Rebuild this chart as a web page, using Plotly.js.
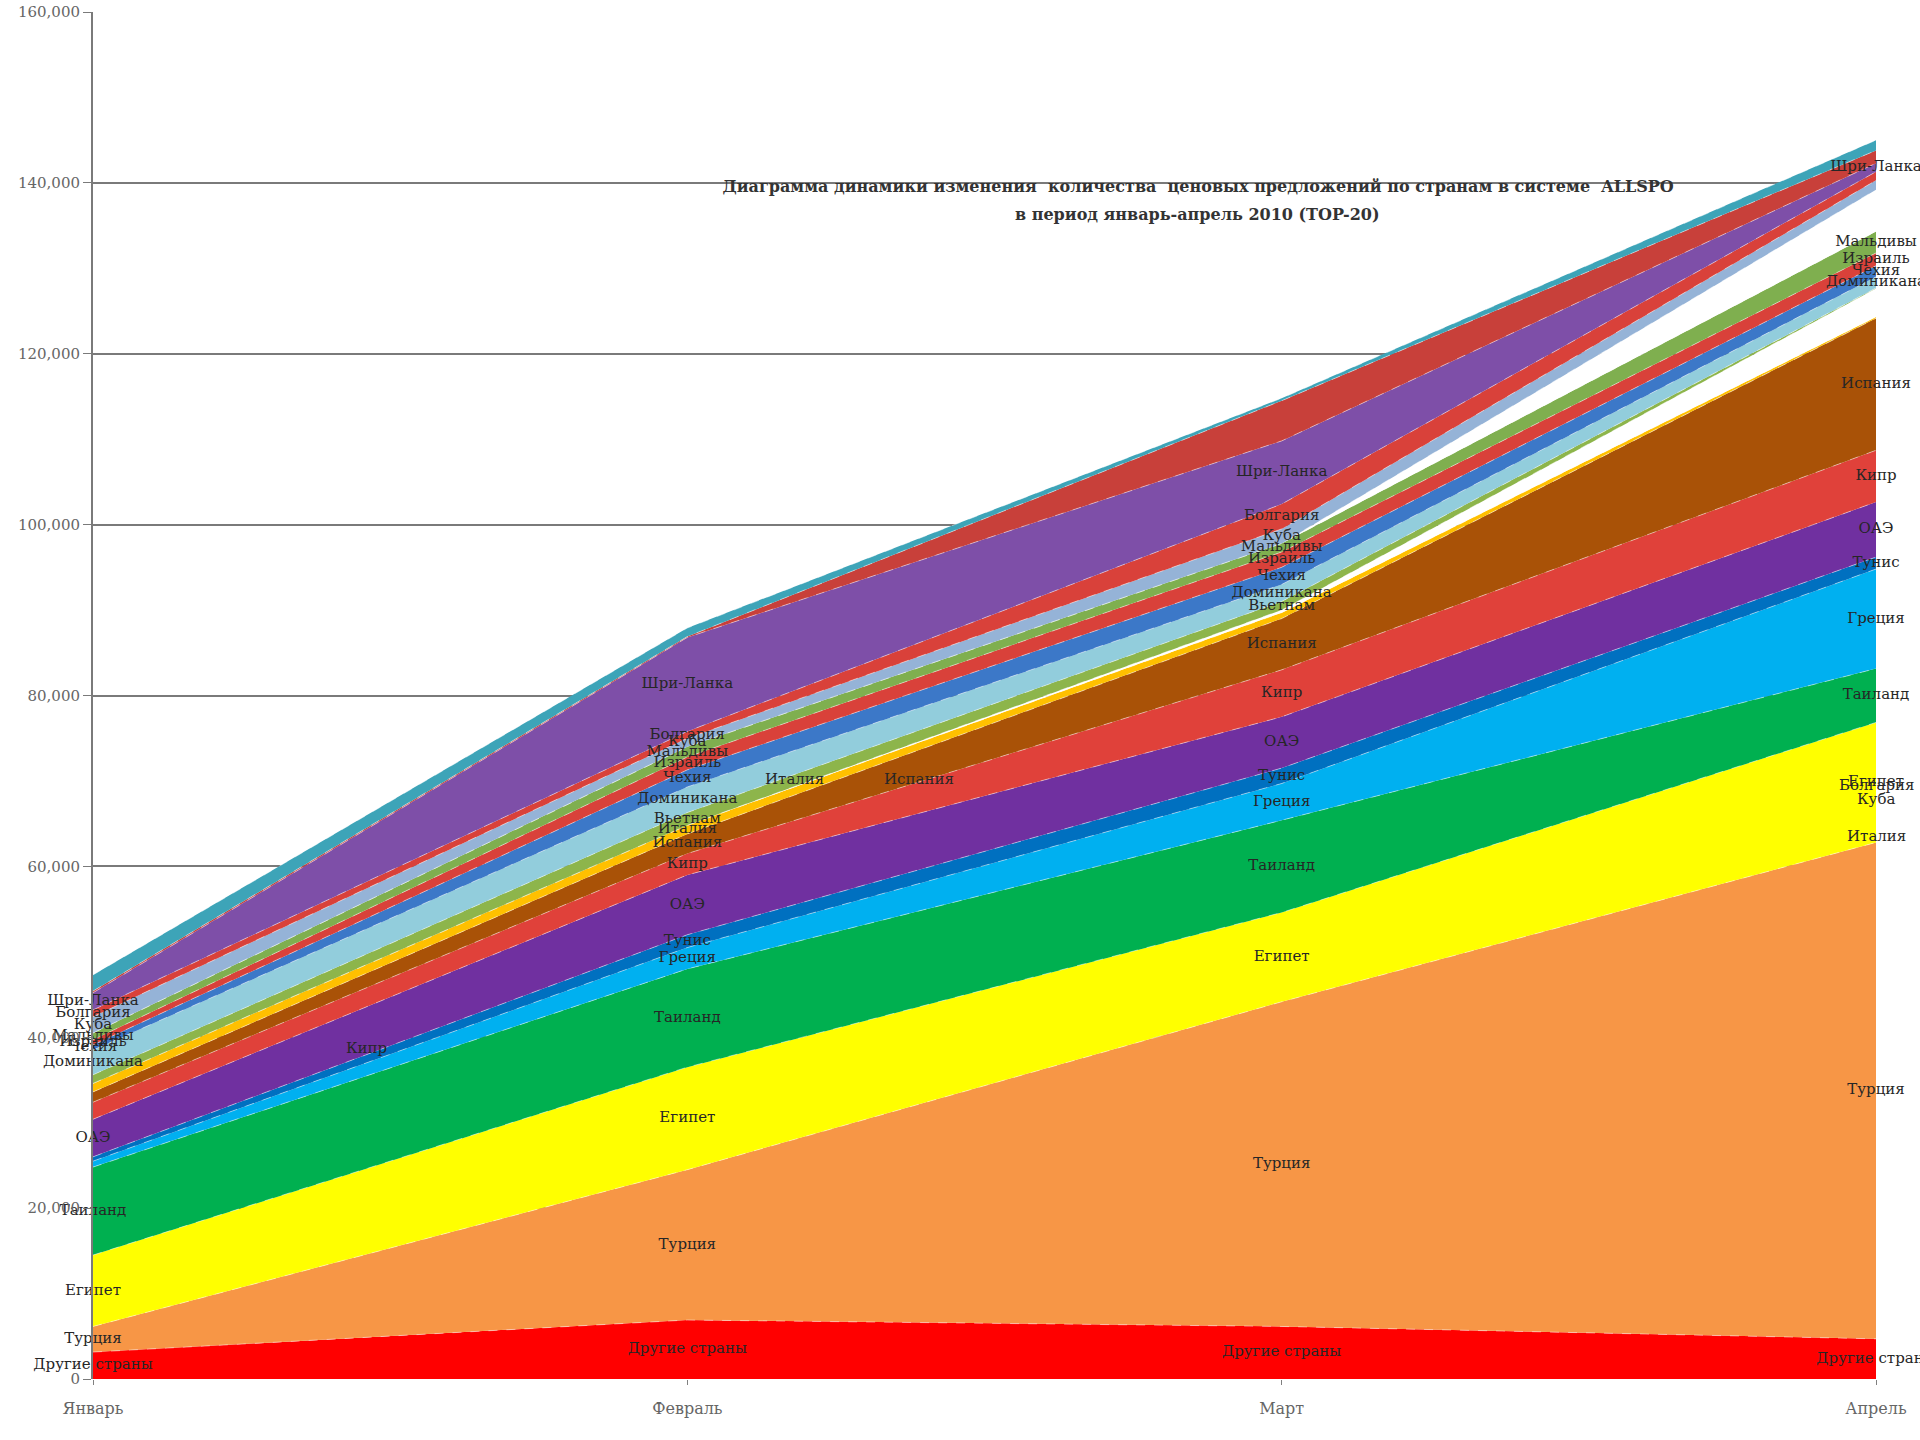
<!DOCTYPE html>
<html>
<head>
<meta charset="utf-8">
<script src="https://cdn.plot.ly/plotly-3.0.1.min.js"></script>
<style>
html,body{margin:0;padding:0;background:#ffffff;}
#chart{width:1920px;height:1440px;}
</style>
</head>
<body>
<div id="chart"></div>
<script>
// ---- categories ----
const months = ['Январь', 'Февраль', 'Март', 'Апрель'];

// ---- series (bottom to top of the stack) ----
const countries = ['Другие страны', 'Турция', 'Египет', 'Таиланд', 'Греция', 'Тунис', 'ОАЭ', 'Кипр',
  'Испания', 'Италия', 'Индия', 'Вьетнам', 'Доминикана', 'Чехия', 'Израиль', 'Мальдивы',
  'Индонезия', 'Куба', 'Болгария', 'Шри-Ланка', 'Хорватия', 'Франция'];

const otherCountries = [3150, 6900, 6150, 4700];
const turkey        = [3000, 17600, 38000, 58100];
const egypt         = [8350, 12000, 10450, 14050];
const thailand      = [10300, 11500, 10800, 6300];
const greece        = [700, 2500, 4300, 11650];
const tunisia       = [500, 1500, 1800, 1400];
const uae           = [4400, 7000, 6000, 6450];
const cyprus        = [2000, 2500, 5500, 6050];
const spain         = [1200, 2300, 6000, 15450];
const italy         = [1000, 1000, 700, 150];
const india         = [0, 0, 300, 3350];
const vietnam       = [1000, 1500, 1000, 50];
const dominicana    = [2900, 3000, 2000, 1300];
const czech         = [600, 2000, 2000, 1300];
const israel        = [600, 1500, 1800, 1500];
const maldives      = [800, 1200, 1000, 2500];
const indonesia     = [0, 0, 0, 4900];
const cuba          = [1900, 1000, 1700, 1100];
const bulgaria      = [800, 800, 2900, 1000];
const sriLanka      = [2000, 11000, 7400, 1000];
const croatia       = [200, 100, 4700, 1500];
const france        = [1900, 1000, 300, 1200];

const seriesValues = [otherCountries, turkey, egypt, thailand, greece, tunisia, uae, cyprus,
  spain, italy, india, vietnam, dominicana, czech, israel, maldives,
  indonesia, cuba, bulgaria, sriLanka, croatia, france];

const colors = ['#FF0000', '#F79646', '#FFFF00', '#00B050', '#00B0F0', '#0070C0', '#7030A0', '#E0413A',
  '#A95207', '#FFC000', '#FFFFFF', '#8DB54B', '#92CDDC', '#3C78C8', '#D9413A', '#7FAF4F',
  '#FFFFFF', '#95B3D7', '#D9413A', '#7E4FA8', '#C8403A', '#3DA4B8'];

// months (indices) at which each series carries its name label
const labelMonths = [[0,1,2,3],[0,1,2,3],[0,1,2,3],[0,1,2,3],[1,2,3],[1,2,3],[0,1,2,3],[1,2,3],
  [1,2,3],[1],[],[1,2],[0,1,2,3],[0,1,2,3],[0,1,2,3],[0,1,2,3],
  [],[0,1,2],[0,1,2],[0,1,2,3],[],[]];

// ---- build traces ----
const traces = [];
const cum = [0, 0, 0, 0];
const lx = [], ly = [], lt = [];
seriesValues.forEach((vals, i) => {
  traces.push({
    type: 'scatter', x: months, y: vals, name: countries[i],
    stackgroup: 'one', mode: 'lines',
    line: {width: 1, color: 'rgba(255,255,255,0.45)', dash: 'dash'},
    fillcolor: colors[i], hoverinfo: 'skip', showlegend: false
  });
  labelMonths[i].forEach(m => {
    lx.push(months[m]);
    ly.push(cum[m] + vals[m] / 2);
    lt.push(countries[i]);
  });
  vals.forEach((v, m) => { cum[m] += v; });
});
traces.push({
  type: 'scatter', mode: 'text', x: lx, y: ly, text: lt,
  textposition: 'middle center', cliponaxis: false,
  textfont: {family: 'DejaVu Serif', size: 15, color: '#262626'},
  hoverinfo: 'skip', showlegend: false
});

const labelFont = {family: 'DejaVu Serif', size: 15, color: '#262626'};
const extraLabels = [
  {x: 0.46, y: 38700, text: 'Кипр'},
  {x: 1.18, y: 70250, text: 'Италия'},
  {x: 1.39, y: 70250, text: 'Испания'},
  {x: 3, y: 69500, text: 'Болгария'},
  {x: 3, y: 67900, text: 'Куба'},
  {x: 3, y: 63600, text: 'Италия'}
].map(a => Object.assign({xref: 'x', yref: 'y', showarrow: false, font: labelFont, xanchor: 'center', yanchor: 'middle'}, a));

const titleFont = {family: 'DejaVu Serif', size: 16, color: '#333333'};
extraLabels.push({
  xref: 'paper', yref: 'paper', x: 0.6197, y: 0.852, xanchor: 'center', yanchor: 'middle',
  showarrow: false, font: titleFont, text: '<b>в период январь-апрель 2010 (TOP-20)</b>'
});

const layout = {
  width: 1920, height: 1440,
  paper_bgcolor: '#ffffff', plot_bgcolor: '#ffffff',
  margin: {l: 93, r: 44, t: 12, b: 61, pad: 0},
  showlegend: false,
  title: {
    text: '<b>Диаграмма динамики изменения  количества  ценовых предложений по странам в системе  ALLSPO</b>',
    x: 0.624, xref: 'container', xanchor: 'center',
    y: 0.8705, yref: 'container', yanchor: 'middle',
    font: titleFont
  },
  xaxis: {
    type: 'category', categoryorder: 'array', categoryarray: months,
    range: [0, 3], showgrid: false, zeroline: false, showline: false,
    ticks: 'outside', ticklen: 5, tickcolor: '#808080', tickwidth: 1,
    ticklabelstandoff: 10,
    tickfont: {family: 'DejaVu Serif', size: 16, color: '#666666'}
  },
  yaxis: {
    range: [0, 160000], dtick: 20000, tick0: 0, tickformat: ',d',
    showgrid: true, gridcolor: '#7a7a7a', gridwidth: 2,
    showline: true, linecolor: '#7a7a7a', linewidth: 2,
    zeroline: false, ticks: 'outside', ticklen: 8, tickcolor: '#7a7a7a', tickwidth: 1,
    tickfont: {family: 'DejaVu Serif', size: 15, color: '#666666'}
  },
  annotations: extraLabels
};

Plotly.newPlot('chart', traces, layout, {displayModeBar: false, staticPlot: true});
</script>
</body>
</html>
